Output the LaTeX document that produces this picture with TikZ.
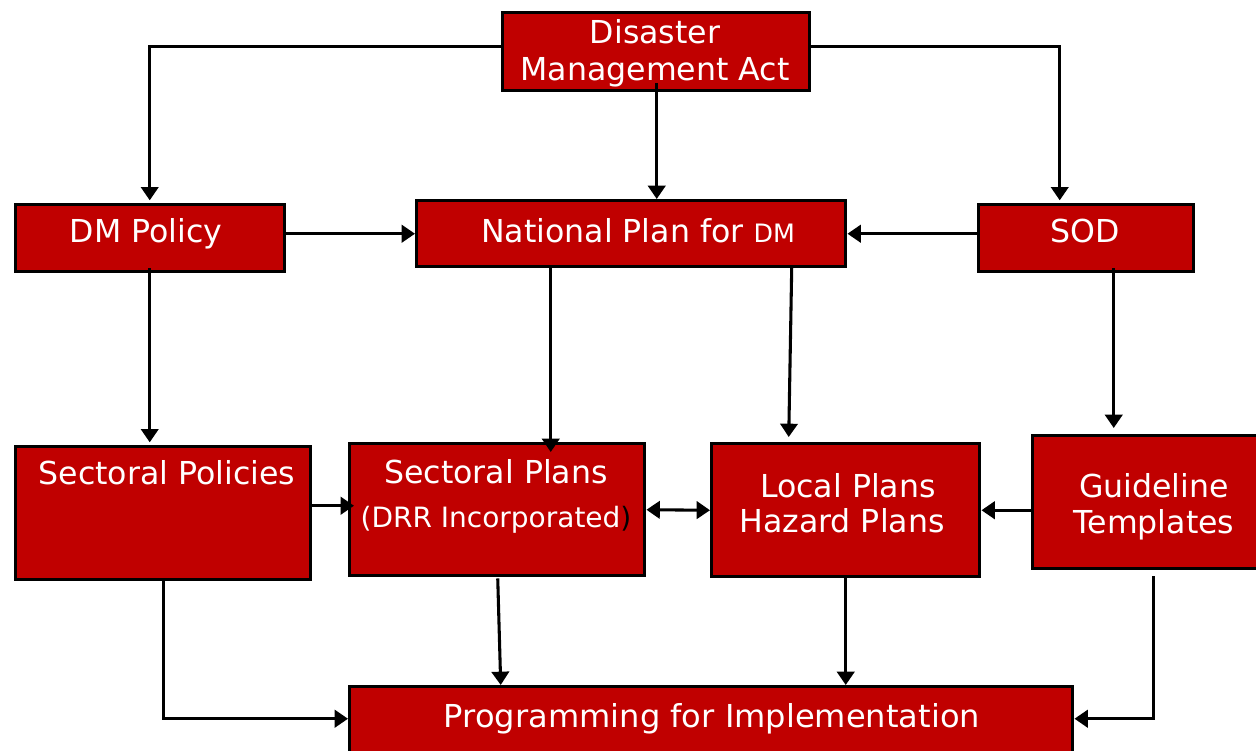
\documentclass[tikz,border=0pt]{standalone}
\usepackage{fontspec}
\setmainfont{DejaVu Sans}
\usetikzlibrary{arrows.meta,calc}
\definecolor{boxred}{HTML}{C00000}
\tikzset{tip/.tip={Triangle[length=10pt,width=13pt]}}
\begin{document}
\begin{tikzpicture}[x=0.75pt,y=-0.75pt,
  box/.style={draw=black, line width=2.6pt, fill=boxred, inner sep=0pt, anchor=north west},
  lbl/.style={text=white, font=\fontsize{23.7}{28}\selectfont, inner sep=0pt, anchor=base},
  conn/.style={line width=2.3pt, -tip},
  dconn/.style={line width=2.3pt, tip-tip}]
\useasboundingbox (0,0) rectangle (1256,750);
\clip (0,0) rectangle (1256,750);

% boxes
\node[box, minimum width={307*0.75pt}, minimum height={78*0.75pt}] (dma) at (501,11) {};
\node[box, minimum width={269*0.75pt}, minimum height={67*0.75pt}] (dmp) at (14,203) {};
\node[box, minimum width={429*0.75pt}, minimum height={66*0.75pt}] (npl) at (415,199) {};
\node[box, minimum width={215*0.75pt}, minimum height={67*0.75pt}] (sod) at (977,203) {};
\node[box, minimum width={295*0.75pt}, minimum height={133*0.75pt}] (spo) at (14,445) {};
\node[box, minimum width={295*0.75pt}, minimum height={132*0.75pt}] (spl) at (348,442) {};
\node[box, minimum width={268*0.75pt}, minimum height={133*0.75pt}] (lpl) at (710,442) {};
\node[box, minimum width={240*0.75pt}, minimum height={133*0.75pt}] (gdl) at (1031,434) {};
\node[box, minimum width={723*0.75pt}, minimum height={80*0.75pt}] (pfi) at (348,685) {};

% texts
\node[lbl] (dmat1) at (655,43) {Disaster};
\node[lbl] (dmat2) at (655,80) {Management Act};
\node[lbl] (dmpt) at (146,242) {DM Policy};
\node[lbl] (nplt) at (638,242) {National Plan for {\fontsize{19}{22}\selectfont DM}};
\node[lbl] (sodt) at (1085,242) {SOD};
\node[lbl] (spot) at (167,484) {Sectoral Policies};
\node[lbl] (splt1) at (496,483) {Sectoral Plans};
\node[lbl, font=\fontsize{21}{25}\selectfont] (splt2) at (496,527) {(DRR Incorporated\textcolor{black}{)}};
\node[lbl] (lplt1) at (848,497) {Local Plans};
\node[lbl] (lplt2) at (842,532) {Hazard Plans};
\node[lbl] (gdlt1) at (1154,497) {Guideline};
\node[lbl] (gdlt2) at (1154,533) {Templates};
\node[lbl] (pfit) at (712,727) {\resizebox{402pt}{\height}{Programming for Implementation}};

% connectors
\draw[conn, shorten >=2pt] ([yshift=3.75pt]dma.west) -| ($(dmp.north)+(-0.5,0)$);
\draw[conn, shorten >=2pt] ([yshift=3.75pt]dma.east) -| ($(sod.north)+(-26.5,0)$);
\draw[conn] ($(dma.south)+(0.5,-9)$) -- ($(dma.south |- npl.north)+(0.5,0)$);
\draw[conn] (dmp.east |- npl.west) -- (npl.west);
\draw[conn] (sod.west |- npl.east) -- (npl.east);
\draw[conn, shorten >=2pt] ($(dmp.south)+(-0.5,-5)$) -- ($(dmp.south |- spo.north)+(-0.5,0)$);
\draw[conn] ($(npl.south)+(-80.5,0)$) -- ($(spl.north)+(53.5,10)$);
\draw[conn] ($(npl.south)+(160.5,-2)$) -- ($(lpl.north)+(-57,-5)$);
\draw[conn] ($(sod.south)+(27.5,-5)$) -- ($(gdl.north)+(-39,-6)$);
\draw[conn] ($(spo.east)+(0,-7.5)$) -- ($(spl.west)+(6,-4)$);
\draw[dconn] (spl.east) -- (lpl.west);
\draw[conn] (lpl.east -| gdl.west) -- (lpl.east);
\draw[conn] ($(spo.south)+(0,-3)$) |- ($(pfi.west)+(0,-8)$);
\draw[conn] ($(spl.south)+(0.5,1)$) -- ($(pfi.north)+(-210.5,0)$);
\draw[conn] (lpl.south) -- (lpl.south |- pfi.north);
\draw[conn] ($(gdl.south)+(1,6)$) |- ($(pfi.east)+(0,-8)$);
\end{tikzpicture}
\end{document}
